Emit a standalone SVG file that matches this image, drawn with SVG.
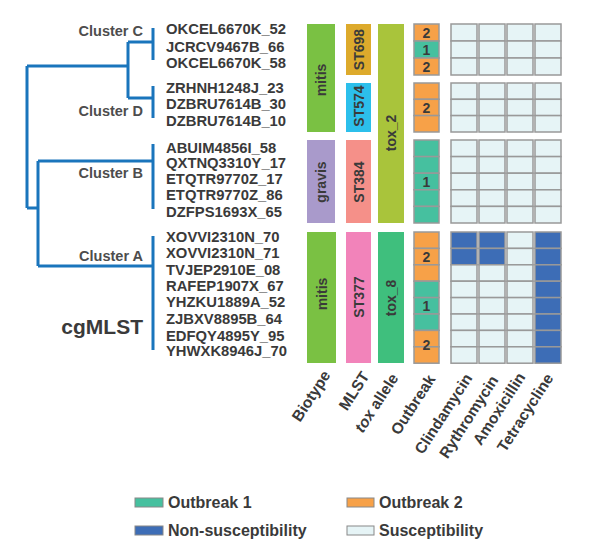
<svg xmlns="http://www.w3.org/2000/svg" width="608" height="559" viewBox="0 0 608 559">
<style>
text{font-family:"Liberation Sans",Arial,sans-serif;font-weight:bold;fill:#3a3a3a}
.leaf{font-size:14.8px}
.cl{font-size:14.5px;fill:#4d4d4d;text-anchor:end}
.bar{font-size:14px;text-anchor:middle;dominant-baseline:central}
.num{font-size:14px;text-anchor:middle;dominant-baseline:central}
.ax{font-size:15.5px;text-anchor:end}
.lg{font-size:16px;dominant-baseline:central}
.tree{fill:none;stroke:#1a75bc;stroke-width:3;stroke-linecap:butt}
.c{stroke:#999;stroke-width:1.5}
.s{fill:#e6f4f6}
.n{fill:#3d6db6}
.o1{fill:#46c09f}
.o2{fill:#f7a148}
</style>
<g id="tree" class="tree">
<path d="M153,28V60 M153,86V118 M128,42H153 M128,98H153 M128,42V98 M27,66H128 M27,66V208 M27,208H38 M38,161V266 M38,161H153 M153,144V209 M38,266H153 M153,236V350"/>
</g>
<g id="cluster-labels">
<text class="cl" x="143" y="36">Cluster C</text>
<text class="cl" x="143" y="116">Cluster D</text>
<text class="cl" x="143" y="178">Cluster B</text>
<text class="cl" x="143" y="261">Cluster A</text>
<text x="143" y="334" style="font-size:21px;text-anchor:end">cgMLST</text>
</g>
<g id="leaves">
<text class="leaf" x="166" y="34">OKCEL6670K_52</text>
<text class="leaf" x="166" y="52">JCRCV9467B_66</text>
<text class="leaf" x="166" y="68">OKCEL6670K_58</text>
<text class="leaf" x="166" y="92.5">ZRHNH1248J_23</text>
<text class="leaf" x="166" y="109">DZBRU7614B_30</text>
<text class="leaf" x="166" y="126">DZBRU7614B_10</text>
<text class="leaf" x="166" y="152.5">ABUIM4856I_58</text>
<text class="leaf" x="166" y="167.5">QXTNQ3310Y_17</text>
<text class="leaf" x="166" y="184">ETQTR9770Z_17</text>
<text class="leaf" x="166" y="200">ETQTR9770Z_86</text>
<text class="leaf" x="166" y="217">DZFPS1693X_65</text>
<text class="leaf" x="166" y="242">XOVVI2310N_70</text>
<text class="leaf" x="166" y="258">XOVVI2310N_71</text>
<text class="leaf" x="166" y="275">TVJEP2910E_08</text>
<text class="leaf" x="166" y="291">RAFEP1907X_67</text>
<text class="leaf" x="166" y="307">YHZKU1889A_52</text>
<text class="leaf" x="166" y="324">ZJBXV8895B_64</text>
<text class="leaf" x="166" y="341">EDFQY4895Y_95</text>
<text class="leaf" x="166" y="356">YHWXK8946J_70</text>
</g>
<g id="biotype">
<rect x="307" y="24" width="28" height="108" fill="#7ac143"/>
<text class="bar" transform="translate(321,80) rotate(-90)">mitis</text>
<rect x="307" y="140" width="28" height="83" fill="#a99acb"/>
<text class="bar" transform="translate(321,182) rotate(-90)">gravis</text>
<rect x="307" y="232" width="29" height="131" fill="#7ac143"/>
<text class="bar" transform="translate(321.5,294) rotate(-90)">mitis</text>
</g>
<g id="mlst">
<rect x="346" y="24" width="25" height="51" fill="#ddaa2c"/>
<text class="bar" transform="translate(358.5,49.5) rotate(-90)">ST698</text>
<rect x="346" y="83" width="25" height="49" fill="#2cbfeb"/>
<text class="bar" transform="translate(358.5,106) rotate(-90)">ST574</text>
<rect x="346" y="140" width="25" height="83" fill="#f59089"/>
<text class="bar" transform="translate(358.5,182) rotate(-90)">ST384</text>
<rect x="346" y="232" width="25" height="131" fill="#f283ba"/>
<text class="bar" transform="translate(358.5,297) rotate(-90)">ST377</text>
</g>
<g id="tox">
<rect x="378" y="24" width="26" height="199" fill="#a9c43b"/>
<text class="bar" transform="translate(391,133) rotate(-90)">tox_2</text>
<rect x="378" y="232" width="26" height="131" fill="#3fbf7d"/>
<text class="bar" transform="translate(391,298) rotate(-90)">tox_8</text>
</g>
<g id="outbreak">
<rect class="c o2" x="414" y="24" width="25" height="17"/>
<rect class="c o1" x="414" y="41" width="25" height="17"/>
<rect class="c o2" x="414" y="58" width="25" height="17"/>
<text class="num" x="426.5" y="32.5">2</text>
<text class="num" x="426.5" y="49.5">1</text>
<text class="num" x="426.5" y="66.5">2</text>
<rect class="c o2" x="414" y="83" width="25" height="16.3"/>
<rect class="c o2" x="414" y="99.3" width="25" height="16.3"/>
<rect class="c o2" x="414" y="115.6" width="25" height="16.4"/>
<text class="num" x="426.5" y="107.5">2</text>
<rect class="c o1" x="414" y="140" width="25" height="16.6"/>
<rect class="c o1" x="414" y="156.6" width="25" height="16.6"/>
<rect class="c o1" x="414" y="173.2" width="25" height="16.6"/>
<rect class="c o1" x="414" y="189.8" width="25" height="16.6"/>
<rect class="c o1" x="414" y="206.4" width="25" height="16.6"/>
<text class="num" x="426.5" y="181.5">1</text>
<rect class="c o2" x="414" y="232" width="25" height="16.4"/>
<rect class="c o2" x="414" y="248.4" width="25" height="16.4"/>
<rect class="c o2" x="414" y="264.8" width="25" height="16.4"/>
<rect class="c o1" x="414" y="281.2" width="25" height="16.4"/>
<rect class="c o1" x="414" y="297.6" width="25" height="16.4"/>
<rect class="c o1" x="414" y="314" width="25" height="16.4"/>
<rect class="c o2" x="414" y="330.4" width="25" height="16.4"/>
<rect class="c o2" x="414" y="346.8" width="25" height="16.4"/>
<text class="num" x="426.5" y="256.6">2</text>
<text class="num" x="426.5" y="305.8">1</text>
<text class="num" x="426.5" y="345">2</text>
</g>
<g id="resistance">
<g class="c s">
<rect x="451" y="24" width="26" height="17"/><rect x="479" y="24" width="26" height="17"/><rect x="507" y="24" width="26" height="17"/><rect x="535" y="24" width="26" height="17"/>
<rect x="451" y="41" width="26" height="17"/><rect x="479" y="41" width="26" height="17"/><rect x="507" y="41" width="26" height="17"/><rect x="535" y="41" width="26" height="17"/>
<rect x="451" y="58" width="26" height="17"/><rect x="479" y="58" width="26" height="17"/><rect x="507" y="58" width="26" height="17"/><rect x="535" y="58" width="26" height="17"/>
<rect x="451" y="83" width="26" height="16.3"/><rect x="479" y="83" width="26" height="16.3"/><rect x="507" y="83" width="26" height="16.3"/><rect x="535" y="83" width="26" height="16.3"/>
<rect x="451" y="99.3" width="26" height="16.3"/><rect x="479" y="99.3" width="26" height="16.3"/><rect x="507" y="99.3" width="26" height="16.3"/><rect x="535" y="99.3" width="26" height="16.3"/>
<rect x="451" y="115.6" width="26" height="16.4"/><rect x="479" y="115.6" width="26" height="16.4"/><rect x="507" y="115.6" width="26" height="16.4"/><rect x="535" y="115.6" width="26" height="16.4"/>
<rect x="451" y="140" width="26" height="16.6"/><rect x="479" y="140" width="26" height="16.6"/><rect x="507" y="140" width="26" height="16.6"/><rect x="535" y="140" width="26" height="16.6"/>
<rect x="451" y="156.6" width="26" height="16.6"/><rect x="479" y="156.6" width="26" height="16.6"/><rect x="507" y="156.6" width="26" height="16.6"/><rect x="535" y="156.6" width="26" height="16.6"/>
<rect x="451" y="173.2" width="26" height="16.6"/><rect x="479" y="173.2" width="26" height="16.6"/><rect x="507" y="173.2" width="26" height="16.6"/><rect x="535" y="173.2" width="26" height="16.6"/>
<rect x="451" y="189.8" width="26" height="16.6"/><rect x="479" y="189.8" width="26" height="16.6"/><rect x="507" y="189.8" width="26" height="16.6"/><rect x="535" y="189.8" width="26" height="16.6"/>
<rect x="451" y="206.4" width="26" height="16.6"/><rect x="479" y="206.4" width="26" height="16.6"/><rect x="507" y="206.4" width="26" height="16.6"/><rect x="535" y="206.4" width="26" height="16.6"/>
<rect class="n" x="451" y="232" width="26" height="16.4"/><rect class="n" x="479" y="232" width="26" height="16.4"/><rect x="507" y="232" width="26" height="16.4"/><rect class="n" x="535" y="232" width="26" height="16.4"/>
<rect class="n" x="451" y="248.4" width="26" height="16.4"/><rect class="n" x="479" y="248.4" width="26" height="16.4"/><rect x="507" y="248.4" width="26" height="16.4"/><rect class="n" x="535" y="248.4" width="26" height="16.4"/>
<rect x="451" y="264.8" width="26" height="16.4"/><rect x="479" y="264.8" width="26" height="16.4"/><rect x="507" y="264.8" width="26" height="16.4"/><rect class="n" x="535" y="264.8" width="26" height="16.4"/>
<rect x="451" y="281.2" width="26" height="16.4"/><rect x="479" y="281.2" width="26" height="16.4"/><rect x="507" y="281.2" width="26" height="16.4"/><rect class="n" x="535" y="281.2" width="26" height="16.4"/>
<rect x="451" y="297.6" width="26" height="16.4"/><rect x="479" y="297.6" width="26" height="16.4"/><rect x="507" y="297.6" width="26" height="16.4"/><rect class="n" x="535" y="297.6" width="26" height="16.4"/>
<rect x="451" y="314" width="26" height="16.4"/><rect x="479" y="314" width="26" height="16.4"/><rect x="507" y="314" width="26" height="16.4"/><rect class="n" x="535" y="314" width="26" height="16.4"/>
<rect x="451" y="330.4" width="26" height="16.4"/><rect x="479" y="330.4" width="26" height="16.4"/><rect x="507" y="330.4" width="26" height="16.4"/><rect class="n" x="535" y="330.4" width="26" height="16.4"/>
<rect x="451" y="346.8" width="26" height="16.4"/><rect x="479" y="346.8" width="26" height="16.4"/><rect x="507" y="346.8" width="26" height="16.4"/><rect class="n" x="535" y="346.8" width="26" height="16.4"/>
</g>
</g>
<g id="axis-labels">
<text class="ax" transform="translate(331,375) rotate(-57)">Biotype</text>
<text class="ax" transform="translate(370,376) rotate(-57)">MLST</text>
<text class="ax" transform="translate(399,378) rotate(-57)"><tspan style="font-style:italic">tox</tspan> allele</text>
<text class="ax" transform="translate(436,379) rotate(-57)">Outbreak</text>
<text class="ax" transform="translate(473,378) rotate(-57)">Clindamycin</text>
<text class="ax" transform="translate(499,380) rotate(-57)">Rythromycin</text>
<text class="ax" transform="translate(526,377) rotate(-57)">Amoxicillin</text>
<text class="ax" transform="translate(554,378) rotate(-57)">Tetracycline</text>
</g>
<g id="legend">
<rect class="o1" x="135" y="498" width="28" height="9" stroke="#888" stroke-width="1"/>
<text class="lg" x="168" y="502">Outbreak 1</text>
<rect class="o2" x="347" y="498" width="27" height="9" stroke="#888" stroke-width="1"/>
<text class="lg" x="379" y="502">Outbreak 2</text>
<rect class="n" x="135" y="526" width="28" height="9" stroke="#888" stroke-width="1"/>
<text class="lg" x="168" y="530">Non-susceptibility</text>
<rect class="s" x="347" y="526" width="27" height="9" stroke="#888" stroke-width="1"/>
<text class="lg" x="379" y="530">Susceptibility</text>
</g>
</svg>
